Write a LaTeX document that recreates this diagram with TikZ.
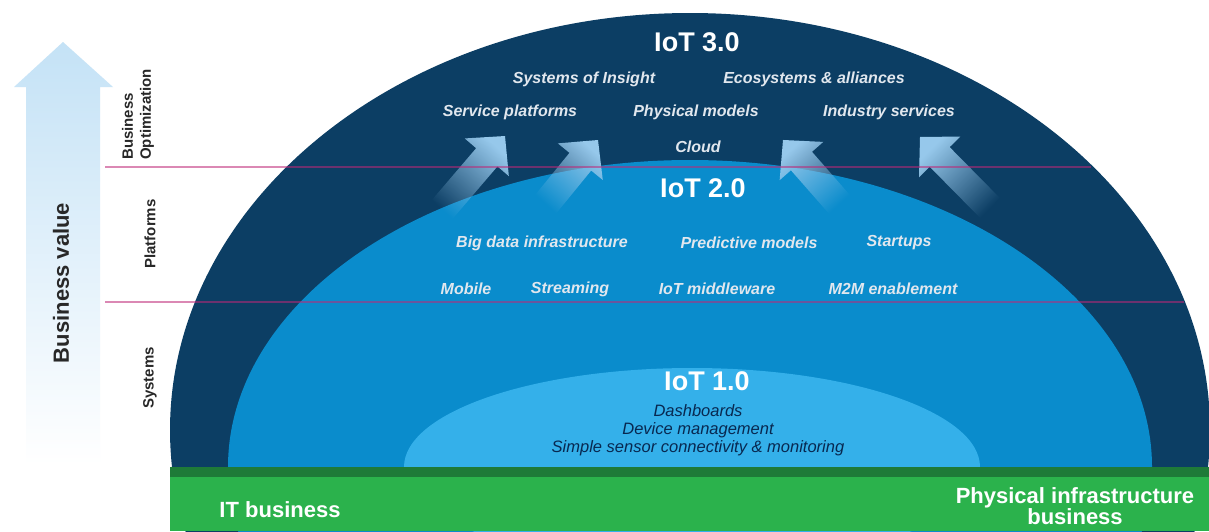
\documentclass[tikz,border=0pt]{standalone}
\usepackage{fontspec}
\setmainfont{Liberation Sans}
\usetikzlibrary{calc,fadings}
\definecolor{navy}{RGB}{12,62,100}
\definecolor{midblue}{RGB}{10,140,204}
\definecolor{lightblue}{RGB}{52,176,234}
\definecolor{grassgreen}{RGB}{43,178,76}
\definecolor{darkgreen}{RGB}{30,122,56}
\definecolor{arrowc}{RGB}{150,200,235}
\definecolor{bvarrow}{RGB}{196,226,246}
\definecolor{linec}{RGB}{190,40,120}
\definecolor{labelc}{RGB}{225,231,238}
\definecolor{darktext}{RGB}{8,40,80}
\definecolor{sidetext}{RGB}{40,40,40}
\tikzfading[name=arrowfade, top color=transparent!0, middle color=transparent!25, bottom color=transparent!100]
\newcommand\domearrow[3]{%
  \coordinate (ah) at ($(#1)!28pt!(#2)$);
  \fill[arrowc, path fading=arrowfade, fading transform={rotate=#3}]
    ($(#2)!14pt!90:(#1)$) -- ($(ah)!14pt!90:(#1)$) -- ($(ah)!29pt!90:(#1)$) -- (#1)
    -- ($(ah)!29pt!-90:(#1)$) -- ($(ah)!14pt!-90:(#1)$) -- ($(#2)!14pt!-90:(#1)$) -- cycle;
}
\begin{document}
\begin{tikzpicture}[x=1pt,y=-1pt,
  iot/.style={text=white, font=\fontsize{27}{30}\selectfont\bfseries},
  lbl/.style={text=labelc, font=\fontsize{16}{19}\selectfont\bfseries\itshape},
  item/.style={text=darktext, align=center, font=\fontsize{16.5}{18}\selectfont\itshape},
  side/.style={rotate=90, text=sidetext, font=\fontsize{15}{18}\selectfont\bfseries},
  divline/.style={draw=linec, draw opacity=0.55, line width=1.6pt},
  bottomtxt/.style={text=white, align=center, font=\fontsize{22}{19}\selectfont\bfseries}]
\useasboundingbox (0,0) rectangle (1209,531);
\begin{scope}
\clip (0,0) rectangle (1209,531);
\fill[white] (0,0) rectangle (1209,531);
% business value arrow
\shade[top color=bvarrow, bottom color=white]
  (14,87) -- (63,42) -- (113,87) -- (100,87) -- (100,465) -- (26,465) -- (26,87) -- cycle;
% domes
\fill[navy] (690,430) ellipse [x radius=520pt, y radius=417pt];
\fill[midblue] (690,467) ellipse [x radius=462pt, y radius=307pt];
\fill[lightblue] (692,467) ellipse [x radius=288pt, y radius=99pt];
% arrows in the dome
\coordinate (a1tip) at (505,136); \coordinate (a1tail) at (440,212);
\coordinate (a2tip) at (598,140); \coordinate (a2tail) at (545,205);
\coordinate (a3tip) at (783,140); \coordinate (a3tail) at (840,205);
\coordinate (a4tip) at (920,137); \coordinate (a4tail) at (992,210);
\domearrow{a1tip}{a1tail}{-41}
\domearrow{a2tip}{a2tail}{-40}
\domearrow{a3tip}{a3tail}{41}
\domearrow{a4tip}{a4tail}{45}
% divider lines
\coordinate (l1a) at (105,167); \coordinate (l1b) at (1091,167);
\coordinate (l2a) at (105,302); \coordinate (l2b) at (1184,302);
\draw[divline] (l1a) -- (l1b);
\draw[divline] (l2a) -- (l2b);
% green bar
\fill[grassgreen] (170,467) rectangle (1209,531);
\fill[darkgreen] (170,467) rectangle (1209,477);
\end{scope}
% texts
\node[iot] (iot3) at (697,42) {IoT 3.0};
\node[lbl] (soi) at (584,79) {Systems of Insight};
\node[lbl] (eco) at (814,79) {Ecosystems \& alliances};
\node[lbl] (sp) at (510,112) {Service platforms};
\node[lbl] (pm) at (696,112) {Physical models};
\node[lbl] (is) at (889,112) {Industry services};
\node[lbl] (cloud) at (698,147) {Cloud};
\node[iot] (iot2) at (703,188) {IoT 2.0};
\node[lbl] (bdi) at (542,243) {Big data infrastructure};
\node[lbl] (pdm) at (749,243) {Predictive models};
\node[lbl] (stu) at (899,243) {Startups};
\node[lbl] (mob) at (466,289) {Mobile};
\node[lbl] (str) at (570,289) {Streaming};
\node[lbl] (mid) at (717,289) {IoT middleware};
\node[lbl] (m2m) at (893,289) {M2M enablement};
\node[iot] (iot1) at (707,381) {IoT 1.0};
\node[item] (items) at (698,430) {Dashboards\\Device management\\Simple sensor connectivity \& monitoring};
\node[bottomtxt] (itb) at (280,510) {IT business};
\node[bottomtxt] (pib) at (1075,506) {Physical infrastructure\\business};
% side labels
\node[side, font=\fontsize{22}{26}\selectfont\bfseries] (bv) at (61,283) {Business value};
\node[side, anchor=west, align=left, inner sep=0pt] (bo) at (138,160) {Business\\Optimization};
\node[side] (pl) at (150,234) {Platforms};
\node[side] (sy) at (150,378) {Systems};
\end{tikzpicture}
\end{document}
